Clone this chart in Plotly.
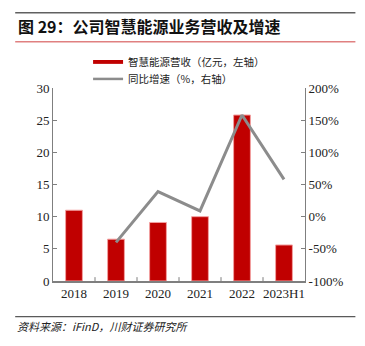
import plotly.graph_objects as go

categories = ["2018", "2019", "2020", "2021", "2022", "2023H1"]
revenue = [11.0, 6.5, 9.1, 10.0, 25.8, 5.6]
growth = [None, -0.40, 0.39, 0.09, 1.58, 0.58]
left_ticks = [0, 5, 10, 15, 20, 25, 30]
right_ticks = [-1.0, -0.5, 0.0, 0.5, 1.0, 1.5, 2.0]
right_labels = ["-100%", "-50%", "0%", "50%", "100%", "150%", "200%"]

serif = "Liberation Serif, Times New Roman, serif"
cjk = "Noto Sans CJK SC, sans-serif"

fig = go.Figure()
fig.add_trace(go.Bar(
    x=categories, y=revenue, name="智慧能源营收（亿元，左轴）",
    marker=dict(color="#c00000", line=dict(color="#f2a0a0", width=1)),
    width=0.4, yaxis="y", showlegend=False,
))
fig.add_trace(go.Scatter(
    x=categories, y=growth, name="同比增速（%，右轴）", mode="lines",
    line=dict(color="#8c8c8c", width=3), yaxis="y2", showlegend=False,
))

fig.update_layout(
    width=365, height=346,
    margin=dict(l=53, r=60, t=88, b=65),
    plot_bgcolor="white", paper_bgcolor="white",
    bargap=0.6,
    xaxis=dict(
        type="category", showline=True, linecolor="#7f7f7f", linewidth=1.5,
        ticks="", tickfont=dict(family=serif, size=13, color="#222"),
        mirror=False, showgrid=False,
    ),
    yaxis=dict(
        range=[0, 30], tickvals=left_ticks, showline=True, linecolor="#7f7f7f",
        linewidth=1, ticks="inside", ticklen=4, tickcolor="#7f7f7f",
        showgrid=False, zeroline=False,
        tickfont=dict(family=serif, size=13, color="#222"),
    ),
    yaxis2=dict(
        range=[-1, 2], tickvals=right_ticks, ticktext=right_labels,
        overlaying="y", side="right", showline=True, linecolor="#7f7f7f",
        linewidth=1, ticks="inside", ticklen=4, tickcolor="#7f7f7f",
        showgrid=False, zeroline=False,
        tickfont=dict(family=serif, size=13, color="#222"),
    ),
    showlegend=False,
)

# inside ticks between categories on the x axis
for i in range(1, len(categories)):
    fig.add_shape(type="line", xref="x", yref="paper", x0=i - 0.5, x1=i - 0.5,
                  y0=0, y1=0.02, line=dict(color="#7f7f7f", width=1))

# header / footer rules
fig.add_shape(type="line", xref="paper", yref="paper", x0=-0.15, x1=1.2,
              y0=1.39, y1=1.39, line=dict(color="#606060", width=1.5))
fig.add_shape(type="line", xref="paper", yref="paper", x0=-0.15, x1=1.2,
              y0=1.239, y1=1.239, line=dict(color="#e08080", width=1.5))
fig.add_shape(type="line", xref="paper", yref="paper", x0=-0.15, x1=1.2,
              y0=-0.185, y1=-0.185, line=dict(color="#303030", width=1))

fig.add_annotation(xref="paper", yref="paper", x=-0.145, y=1.322, xanchor="left",
                   yanchor="middle", showarrow=False,
                   text="<b>图 29：公司智慧能源业务营收及增速</b>",
                   font=dict(family=cjk, size=16, color="#111"))
fig.add_annotation(xref="paper", yref="paper", x=-0.15, y=-0.235, xanchor="left",
                   yanchor="middle", showarrow=False,
                   text="<i>资料来源：iFinD，川财证券研究所</i>",
                   font=dict(family=cjk, size=11, color="#222"))

# manual legend
fig.add_shape(type="rect", xref="paper", yref="paper", x0=0.159, x1=0.278,
              y0=1.125, y1=1.145, fillcolor="#c00000", line=dict(width=0))
fig.add_shape(type="line", xref="paper", yref="paper", x0=0.159, x1=0.278,
              y0=1.047, y1=1.047, line=dict(color="#8c8c8c", width=2.5))
fig.add_annotation(xref="paper", yref="paper", x=0.29, y=1.135, xanchor="left",
                   yanchor="middle", showarrow=False, text="智慧能源营收（亿元，左轴）",
                   font=dict(family=cjk, size=10.5, color="#222"))
fig.add_annotation(xref="paper", yref="paper", x=0.29, y=1.047, xanchor="left",
                   yanchor="middle", showarrow=False, text="同比增速（%，右轴）",
                   font=dict(family=cjk, size=10.5, color="#222"))

fig.write_html("out.html")
